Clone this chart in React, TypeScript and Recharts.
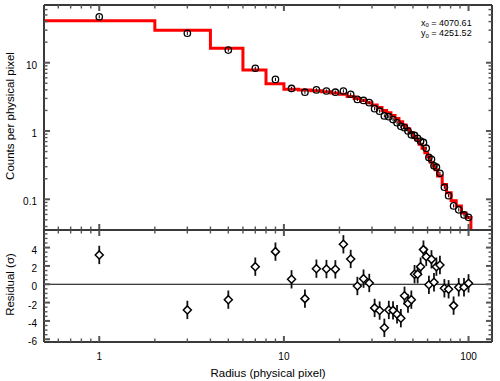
import React from 'react';
import { ComposedChart, Line, Scatter, XAxis, YAxis, ErrorBar, ReferenceLine } from 'recharts';

// ---------- data ----------
const radii = [1, 3, 5, 7, 9, 11, 13, 15, 17, 19, 21, 23, 25, 27, 29, 31, 33, 35, 37, 39, 41, 43, 45, 47, 49, 51, 53, 55, 57, 59, 61, 63, 65, 67, 70, 74, 78, 83, 88.5, 94.5, 100];
const counts = [47, 27, 15.3, 8.3, 5.7, 4.2, 3.7, 4.0, 3.85, 3.7, 3.85, 3.45, 2.9, 2.8, 2.6, 2.12, 1.95, 1.66, 1.62, 1.47, 1.32, 1.17, 1.12, 1.0, 0.88, 0.86, 0.78, 0.71, 0.68, 0.56, 0.41, 0.385, 0.31, 0.295, 0.24, 0.15, 0.113, 0.08, 0.07, 0.059, 0.0544];
const residuals = [3.2, -2.8, -1.68, 1.92, 3.56, 0.54, -1.57, 1.7, 1.66, 1.63, 4.36, 2.76, -0.19, 0.61, 0.14, -2.58, -2.87, -4.75, -2.8, -2.85, -3.27, -3.7, -1.26, -2.1, -1.68, 1.1, 1.1, 1.92, 3.78, 3.0, -0.06, 2.72, 0.22, 1.92, 2.1, -0.44, -0.55, -2.33, -0.33, -0.33, 0.1];
const residualErr = [1, 1, 1, 1, 1, 1, 1, 1, 1, 1, 1, 1, 1, 1, 1, 1, 1, 1, 1, 1, 1, 1, 1, 1, 1, 1, 1, 1, 1, 1, 1, 1, 1, 1, 1, 1, 1, 1, 1, 1, 1];
// model: left bin edges and model value per bin
const binEdges = [0.5, 2, 4, 6, 8, 10, 12, 14, 16, 18, 20, 22, 24, 26, 28, 30, 32, 34, 36, 38, 40, 42, 44, 46, 48, 50, 52, 54, 56, 58, 60, 62, 64, 66, 68, 72, 76, 80.5, 85.8, 91.5, 97];
const lastEdge = 103;
const modelValues = [41, 30, 16.3, 7.8, 4.9, 4.1, 4.0, 3.9, 3.75, 3.6, 3.45, 3.2, 3.0, 2.8, 2.6, 2.4, 2.2, 2.0, 1.85, 1.68, 1.52, 1.37, 1.22, 1.08, 0.95, 0.84, 0.74, 0.64, 0.56, 0.48, 0.42, 0.35, 0.31, 0.27, 0.22, 0.165, 0.125, 0.095, 0.08, 0.063, 0.054];

const xTicks = [0.6, 0.7, 0.8, 0.9, 1, 2, 3, 4, 5, 6, 7, 8, 9, 10, 20, 30, 40, 50, 60, 70, 80, 90, 100];
const xMajor = [1, 10, 100];
const yTopTicks = [0.04, 0.05, 0.06, 0.07, 0.08, 0.09, 0.1, 0.2, 0.3, 0.4, 0.5, 0.6, 0.7, 0.8, 0.9, 1, 2, 3, 4, 5, 6, 7, 8, 9, 10, 20, 30, 40, 50, 60];
const yTopMajor = [0.1, 1, 10];
const yResTicks = [-6, -5.5, -5, -4.5, -4, -3.5, -3, -2.5, -2, -1.5, -1, -0.5, 0, 0.5, 1, 1.5, 2, 2.5, 3, 3.5, 4, 4.5, 5, 5.5];
const yResMajor = [-6, -4, -2, 0, 2, 4];

const xTitle = 'Radius (physical pixel)';
const yTopTitle = 'Counts per physical pixel';
const yResTitle = 'Residual (σ)';
const x0Text = '4070.61';
const y0Text = '4251.52';

const X_DOMAIN: [number, number] = [0.502, 134];
const Y_TOP_DOMAIN: [number, number] = [0.0355, 70];
const Y_RES_DOMAIN: [number, number] = [-6.3, 5.92];

// ---------- styles ----------
const FONT = '"Liberation Sans", Arial, Helvetica, sans-serif';
const FRAME = '#3a3a3a';
const TICK = '#555';
const axisLineStyle = { stroke: FRAME, strokeWidth: 2 };

function makeXTick(side: 'top' | 'bottom', labels: boolean) {
  return (p: any) => {
    const { x, y, payload } = p;
    const v = payload.value;
    const major = xMajor.includes(v);
    const len = major ? 6 : 3.5;
    const dir = side === 'bottom' ? -1 : 1;
    return (
      <g>
        <line x1={x} x2={x} y1={y} y2={y + dir * len} stroke={TICK} strokeWidth={major ? 2 : 1.4} />
        {labels && major ? (
          <text x={x} y={y + 17.5} textAnchor="middle" fontSize={10} fill="#000" fontFamily={FONT}>
            {String(v)}
          </text>
        ) : null}
      </g>
    );
  };
}

function makeYTick(side: 'left' | 'right', majors: number[], labels: boolean) {
  return (p: any) => {
    const { x, y, payload } = p;
    const v = payload.value;
    const major = majors.includes(v);
    const len = major ? 6 : 3.5;
    const dir = side === 'left' ? 1 : -1;
    return (
      <g>
        <line x1={x} x2={x + dir * len} y1={y} y2={y} stroke={TICK} strokeWidth={major ? 2 : 1.4} />
        {labels && major ? (
          <text x={x - 7} y={y + 6} textAnchor="end" fontSize={10} fill="#000" fontFamily={FONT}>
            {String(v)}
          </text>
        ) : null}
      </g>
    );
  };
}

const CircleMark = (p: any) => {
  const { cx, cy } = p;
  if (cx == null || cy == null) return <g />;
  return (
    <g>
      <circle cx={cx} cy={cy} r={3.2} fill="none" stroke="#000" strokeWidth={1.3} />
      <line x1={cx} x2={cx} y1={cy - 1.6} y2={cy + 1.6} stroke="#000" strokeWidth={1} />
    </g>
  );
};

const DiamondMark = (p: any) => {
  const { cx, cy } = p;
  if (cx == null || cy == null) return <g />;
  const s = 4;
  return (
    <path
      d={`M${cx},${cy - s}L${cx + s},${cy}L${cx},${cy + s}L${cx - s},${cy}Z`}
      fill="#fff"
      stroke="#000"
      strokeWidth={1.5}
    />
  );
};

export default function App() {
  const topPoints = radii.map((r, i) => ({ x: r, y: counts[i] }));
  const stepPoints = [
    ...binEdges.map((e, i) => ({ x: e, y: modelValues[i] })),
    { x: lastEdge, y: modelValues[modelValues.length - 1] },
    { x: lastEdge, y: 0.001 },
  ];
  const resPoints = radii.map((r, i) => ({ x: r, y: residuals[i], e: residualErr[i] }));

  const commonX = {
    dataKey: 'x',
    type: 'number' as const,
    scale: 'log' as const,
    domain: X_DOMAIN,
    allowDataOverflow: true,
    ticks: xTicks,
    interval: 0 as const,
    tickSize: 0,
    tickMargin: 0,
    tickLine: false,
    axisLine: axisLineStyle,
  };

  return (
    <div style={{ position: 'absolute', left: 0, top: 0, width: 500, height: 381, background: '#fff', fontFamily: FONT }}>
      <div style={{ position: 'absolute', left: 0, top: 0 }}>
        <ComposedChart width={500} height={231} margin={{ top: 4, right: 7, bottom: 0, left: 0 }}>
          <XAxis {...commonX} xAxisId="b" orientation="bottom" height={1} tick={makeXTick('bottom', false)} />
          <XAxis {...commonX} xAxisId="t" orientation="top" height={1} tick={makeXTick('top', false)} />
          <YAxis
            yAxisId="l"
            orientation="left"
            type="number"
            scale="log"
            domain={Y_TOP_DOMAIN}
            allowDataOverflow
            ticks={yTopTicks}
            interval={0}
            width={44}
            tickSize={0}
            tickMargin={0}
            tickLine={false}
            axisLine={axisLineStyle}
            tick={makeYTick('left', yTopMajor, true)}
          />
          <YAxis
            yAxisId="r"
            orientation="right"
            type="number"
            scale="log"
            domain={Y_TOP_DOMAIN}
            allowDataOverflow
            ticks={yTopTicks}
            interval={0}
            width={1}
            tickSize={0}
            tickMargin={0}
            tickLine={false}
            axisLine={axisLineStyle}
            tick={makeYTick('right', yTopMajor, false)}
          />
          <Scatter xAxisId="b" yAxisId="l" data={topPoints} dataKey="y" shape={CircleMark} isAnimationActive={false} />
          <Line
            xAxisId="b"
            yAxisId="l"
            data={stepPoints}
            dataKey="y"
            type="stepAfter"
            stroke="#ff0000"
            strokeWidth={3}
            dot={false}
            activeDot={false}
            isAnimationActive={false}
          />
        </ComposedChart>
      </div>
      <div style={{ position: 'absolute', left: 0, top: 229 }}>
        <ComposedChart width={500} height={152} margin={{ top: 0, right: 7, bottom: 0, left: 0 }}>
          <XAxis {...commonX} xAxisId="b" orientation="bottom" height={39} tick={makeXTick('bottom', true)} />
          <XAxis {...commonX} xAxisId="t" orientation="top" height={1} tick={makeXTick('top', false)} />
          <YAxis
            yAxisId="l"
            orientation="left"
            type="number"
            domain={Y_RES_DOMAIN}
            allowDataOverflow
            ticks={yResTicks}
            interval={0}
            width={44}
            tickSize={0}
            tickMargin={0}
            tickLine={false}
            axisLine={axisLineStyle}
            tick={makeYTick('left', yResMajor, true)}
          />
          <YAxis
            yAxisId="r"
            orientation="right"
            type="number"
            domain={Y_RES_DOMAIN}
            allowDataOverflow
            ticks={yResTicks}
            interval={0}
            width={1}
            tickSize={0}
            tickMargin={0}
            tickLine={false}
            axisLine={axisLineStyle}
            tick={makeYTick('right', yResMajor, false)}
          />
          <ReferenceLine xAxisId="b" yAxisId="l" y={0} stroke="#000" strokeWidth={1.2} />
          <Scatter xAxisId="b" yAxisId="l" data={resPoints} dataKey="y" shape={DiamondMark} isAnimationActive={false}>
            <ErrorBar dataKey="e" direction="y" width={0} stroke="#111" strokeWidth={1.8} />
          </Scatter>
        </ComposedChart>
      </div>
      <svg width={500} height={381} style={{ position: 'absolute', left: 0, top: 0, pointerEvents: 'none' }}>
        <text transform="translate(13.5,116) rotate(-90)" textAnchor="middle" fontSize={11.5} fill="#000" fontFamily={FONT}>
          {yTopTitle}
        </text>
        <text transform="translate(13.5,284.5) rotate(-90)" textAnchor="middle" fontSize={11.5} fill="#000" fontFamily={FONT}>
          {yResTitle}
        </text>
        <text x={268} y={377} textAnchor="middle" fontSize={11.5} fill="#000" fontFamily={FONT}>
          {xTitle}
        </text>
        <text x={421} y={25.5} fontSize={9} fill="#000" fontFamily={FONT}>
          x<tspan fontSize={6} dy={1.5}>0</tspan>
          <tspan dy={-1.5}>{' = ' + x0Text}</tspan>
        </text>
        <text x={421} y={36} fontSize={9} fill="#000" fontFamily={FONT}>
          y<tspan fontSize={6} dy={1.5}>0</tspan>
          <tspan dy={-1.5}>{' = ' + y0Text}</tspan>
        </text>
      </svg>
    </div>
  );
}
